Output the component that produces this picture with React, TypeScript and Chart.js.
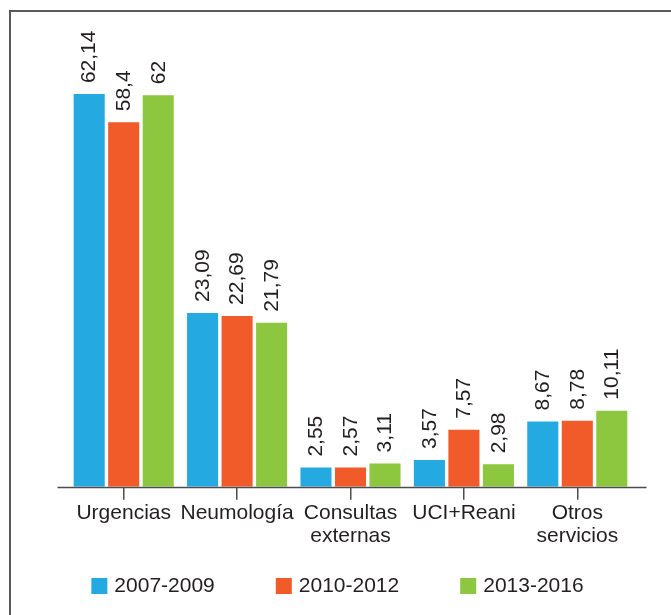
import React, { useEffect, useRef } from 'react';
import { Chart, BarController, BarElement, CategoryScale, LinearScale } from 'chart.js';

// ---- data ----
const categories: (string | string[])[] = [
  'Urgencias',
  'Neumología',
  ['Consultas', 'externas'],
  'UCI+Reani',
  ['Otros', 'servicios'],
];
const seriesNames = ['2007-2009', '2010-2012', '2013-2016'];
const values2007_2009 = [62.14, 23.09, 2.55, 3.57, 8.67];
const values2010_2012 = [58.4, 22.69, 2.57, 7.57, 8.78];
const values2013_2016 = [62, 21.79, 3.11, 2.98, 10.11];
const seriesColors = ['#24a9e1', '#f15a29', '#8dc63f'];

// ---- broken value axis (the original compresses the tall Urgencias bars) ----
const BREAK_START = 30;
const BREAK_END = 40;
const BREAK_GAP = BREAK_END - BREAK_START;
const compress = (v: number) => (v <= BREAK_START ? v : v >= BREAK_END ? v - BREAK_GAP : BREAK_START);
const expand = (c: number) => (c <= BREAK_START ? c : c + BREAK_GAP);

class BrokenLinearScale extends LinearScale {
  static id = 'brokenLinear';
  static defaults = LinearScale.defaults;
  getPixelForValue(value: number) {
    return super.getPixelForValue(compress(value));
  }
  getValueForPixel(pixel: number) {
    return expand(super.getValueForPixel(pixel) as number);
  }
}

Chart.register(BarController, BarElement, CategoryScale, LinearScale, BrokenLinearScale as any);

const FONT = '"Liberation Sans", Arial, Helvetica, sans-serif';
const TEXT_COLOR = '#231f20';
const AXIS_COLOR = '#4d4d4d';

const fmt = (v: number) => String(v).replace('.', ',');

const overlayPlugin = {
  id: 'overlay',
  afterDatasetsDraw(chart: any) {
    const ctx = chart.ctx as CanvasRenderingContext2D;
    const yScale = chart.scales.y;
    const area = chart.chartArea;
    const baseY = yScale.getPixelForValue(0);
    ctx.save();
    // baseline
    ctx.strokeStyle = AXIS_COLOR;
    ctx.lineWidth = 1.5;
    ctx.beginPath();
    ctx.moveTo(area.left - 9.5, baseY + 0.7);
    ctx.lineTo(area.right + 12.5, baseY + 0.7);
    ctx.stroke();
    // value labels (rotated)
    ctx.font = `21px ${FONT}`;
    ctx.fillStyle = TEXT_COLOR;
    ctx.textAlign = 'left';
    ctx.textBaseline = 'middle';
    chart.data.datasets.forEach((ds: any, di: number) => {
      const meta = chart.getDatasetMeta(di);
      meta.data.forEach((bar: any, i: number) => {
        ctx.save();
        ctx.translate(bar.x + 0.5, bar.y - 11);
        ctx.rotate(-Math.PI / 2);
        ctx.fillText(fmt(ds.data[i]), 0, 0);
        ctx.restore();
      });
    });
    ctx.restore();
  },
  afterDraw(chart: any) {
    const ctx = chart.ctx as CanvasRenderingContext2D;
    ctx.save();
    ctx.font = `21px ${FONT}`;
    ctx.textAlign = 'left';
    ctx.textBaseline = 'middle';
    const box = 16;
    const boxGap = 7;
    const itemGap = 61;
    const items = chart.data.datasets.map((ds: any) => ({
      label: ds.label as string,
      color: ds.backgroundColor as string,
      w: box + boxGap + ctx.measureText(ds.label).width,
    }));
    const total = items.reduce((s: number, it: any) => s + it.w, 0) + itemGap * (items.length - 1);
    let x = chart.width / 2 + 2 - total / 2;
    const boxTop = chart.height - 37;
    items.forEach((it: any) => {
      ctx.fillStyle = it.color;
      ctx.fillRect(x, boxTop, box, box);
      ctx.fillStyle = TEXT_COLOR;
      ctx.fillText(it.label, x + box + boxGap, boxTop + box / 2 + 0.5);
      x += it.w + itemGap;
    });
    ctx.restore();
  },
};

export default function App() {
  const canvasRef = useRef<HTMLCanvasElement | null>(null);

  useEffect(() => {
    const canvas = canvasRef.current;
    if (!canvas) return;
    const seriesValues = [values2007_2009, values2010_2012, values2013_2016];
    const chart = new Chart(canvas, {
      type: 'bar',
      data: {
        labels: categories as any,
        datasets: seriesNames.map((name, i) => ({
          label: name,
          data: seriesValues[i],
          backgroundColor: seriesColors[i],
          borderWidth: 0,
          categoryPercentage: 0.913,
          barPercentage: 0.9,
        })),
      },
      options: {
        animation: false,
        responsive: false,
        devicePixelRatio: 1,
        layout: { padding: { left: 67, right: 37, top: 65, bottom: 65 } },
        plugins: {
          legend: { display: false },
          tooltip: { enabled: false },
        } as any,
        scales: {
          x: {
            grid: {
              display: true,
              offset: false,
              drawOnChartArea: false,
              drawTicks: true,
              tickLength: 13,
              color: AXIS_COLOR,
              lineWidth: 1.5,
            },
            border: { display: false },
            ticks: {
              color: TEXT_COLOR,
              font: { family: FONT, size: 21, lineHeight: 1.1 },
              padding: 2,
              maxRotation: 0,
              minRotation: 0,
              autoSkip: false,
            },
          },
          y: {
            type: 'brokenLinear' as any,
            min: 0,
            max: 56,
            display: false,
          },
        },
      },
      plugins: [overlayPlugin],
    });
    return () => chart.destroy();
  }, []);

  return (
    <div style={{ position: 'fixed', left: 0, top: 0, width: 671, height: 615, overflow: 'hidden', background: '#fff' }}>
      <div
        style={{
          position: 'absolute',
          left: 9,
          top: 10,
          width: 700,
          height: 700,
          border: '2px solid #58595b',
          boxSizing: 'border-box',
        }}
      />
      <canvas ref={canvasRef} width={671} height={615} style={{ position: 'absolute', left: 0, top: 0 }} />
    </div>
  );
}
